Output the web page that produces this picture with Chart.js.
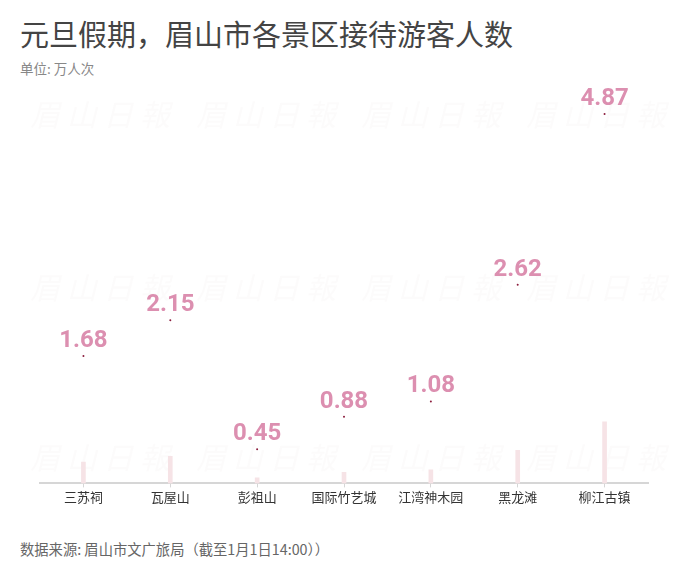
<!DOCTYPE html>
<html>
<head>
<meta charset="utf-8">
<script src="https://cdn.jsdelivr.net/npm/chart.js@4.4.1/dist/chart.umd.min.js"></script>
<style>
  body { margin: 0; background: #fff; font-family: "Noto Sans CJK SC", sans-serif; }
  #wrap { position: relative; width: 700px; height: 576px; overflow: hidden; }
  #title { position: absolute; left: 20px; top: 13px; font-size: 29px; color: #444; line-height: 40px; }
  #unit { position: absolute; left: 20px; top: 59px; font-size: 13.5px; color: #888; line-height: 18px; }
  #source { position: absolute; left: 20px; top: 540px; font-size: 14.3px; color: #666; line-height: 18px; }
  #box { position: absolute; left: 0; top: 80px; width: 700px; height: 427px; }
</style>
</head>
<body>
<div id="wrap">
  <div id="title">元旦假期，眉山市各景区接待游客人数</div>
  <div id="unit">单位: 万人次</div>
  <div id="box"><canvas id="c"></canvas></div>
  <div id="source">数据来源: 眉山市文广旅局（截至1月1日14:00））</div>
</div>
<script>
// 景区和接待人数（万人次）
const scenicSpots = ['三苏祠', '瓦屋山', '彭祖山', '国际竹艺城', '江湾神木园', '黑龙滩', '柳江古镇'];
const visitors = [1.68, 2.15, 0.45, 0.88, 1.08, 2.62, 4.87];
const valueLabels = ['1.68', '2.15', '0.45', '0.88', '1.08', '2.62', '4.87'];

// 水印
const watermark = {
    id: 'watermark',
    beforeDatasetsDraw(chart) {
        const ctx = chart.ctx;
        ctx.save();
        ctx.fillStyle = 'rgba(210, 180, 180, 0.06)';
        ctx.font = 'italic 30px "Noto Sans CJK SC"';
        ctx.textAlign = 'center';
        ctx.textBaseline = 'middle';
        const xs = [100, 266, 431, 596];
        const ys = [35, 208, 378];
        ys.forEach(y => xs.forEach(x => {
            ctx.fillText('眉 山 日 報', x, y);
        }));
        ctx.restore();
    }
};

// 数值标签
const valueLabelPlugin = {
    id: 'valueLabels',
    afterDatasetsDraw(chart) {
        const ctx = chart.ctx;
        const meta = chart.getDatasetMeta(0);
        ctx.save();
        ctx.fillStyle = '#dc8fb0';
        ctx.font = 'bold 24px Roboto';
        ctx.textAlign = 'center';
        ctx.textBaseline = 'alphabetic';
        meta.data.forEach((pt, i) => {
            ctx.fillText(valueLabels[i], pt.x, pt.y - 9);
        });
        ctx.restore();
    }
};

const ctx = document.getElementById('c').getContext('2d');
new Chart(ctx, {
    data: {
        labels: scenicSpots,
        datasets: [{
            type: 'line',
            data: visitors,
            showLine: false,
            pointRadius: 1,
            pointHoverRadius: 1,
            pointBorderWidth: 0,
            pointBackgroundColor: '#8b1c3c',
            yAxisID: 'y'
        }, {
            type: 'bar',
            data: visitors,
            backgroundColor: '#f6e3e6',
            barThickness: 4,
            yAxisID: 'y2'
        }]
    },
    options: {
        responsive: true,
        maintainAspectRatio: false,
        animation: false,
        layout: { padding: { left: 40, right: 52, top: 9, bottom: 0 } },
        plugins: {
            legend: { display: false },
            tooltip: { enabled: false }
        },
        scales: {
            x: {
                grid: {
                    display: true,
                    offset: false,
                    drawOnChartArea: false,
                    drawTicks: true,
                    tickLength: 4,
                    color: '#d6d6d6'
                },
                border: { display: true, color: '#d6d6d6', width: 2 },
                ticks: {
                    color: '#333',
                    font: { size: 13, family: '"Noto Sans CJK SC"' },
                    padding: 2,
                    maxRotation: 0
                }
            },
            y: {
                display: false,
                min: 0,
                max: 5.2
            },
            y2: {
                display: false,
                min: 0,
                max: 31.2
            }
        }
    },
    plugins: [watermark, valueLabelPlugin]
});
</script>
</body>
</html>
